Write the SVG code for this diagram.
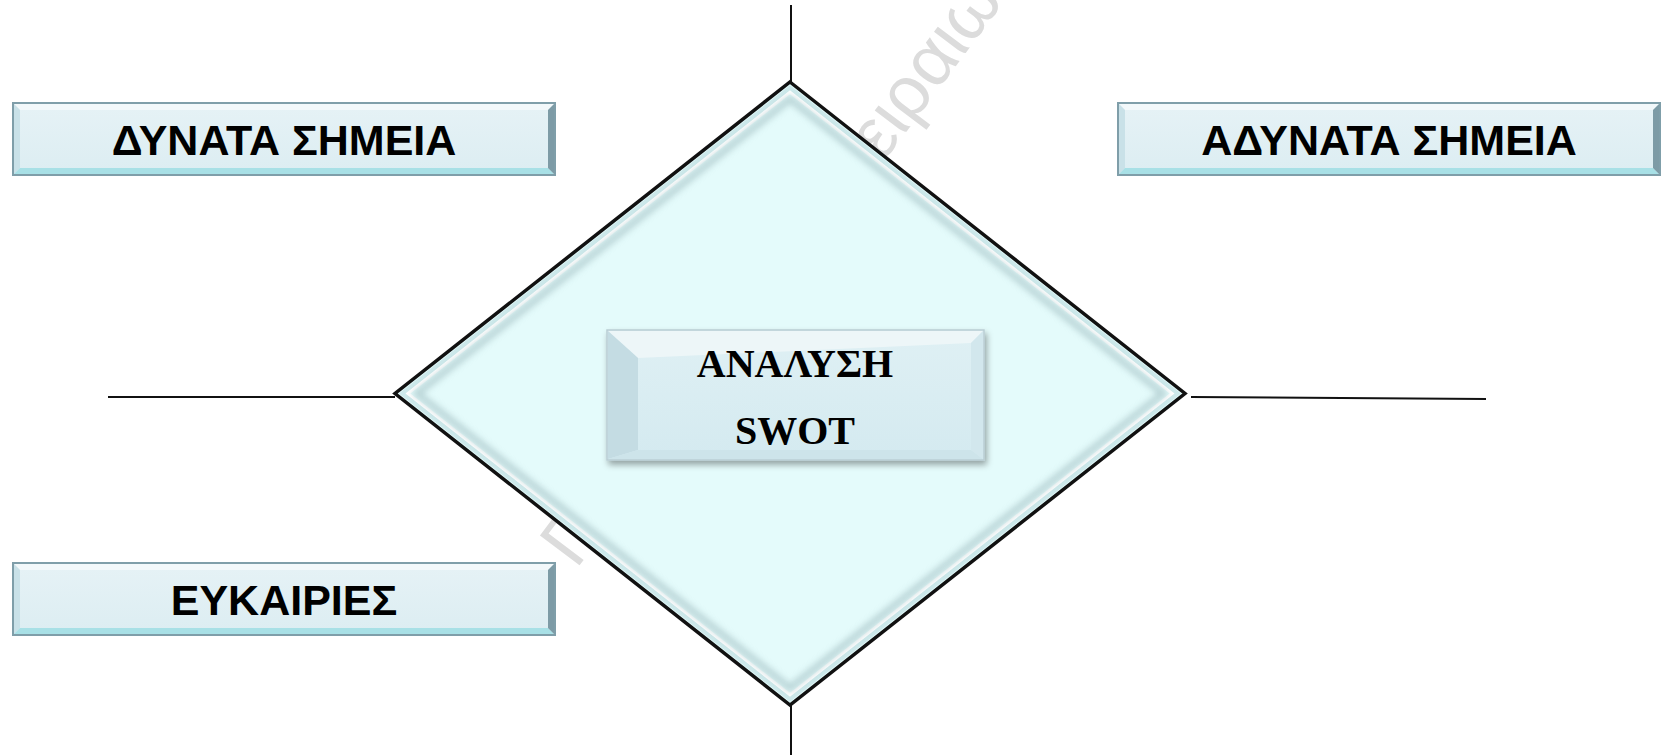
<svg xmlns="http://www.w3.org/2000/svg" xmlns:xlink="http://www.w3.org/1999/xlink" width="1668" height="755" viewBox="0 0 1668 755">
  <style>
    .conn { stroke: #111; stroke-width: 2; fill: none; }
    .lbl { font-family: "Liberation Sans", Arial, sans-serif; font-weight: bold; font-size: 43px; fill: #000; text-anchor: middle; }
    .ctr { font-family: "Liberation Serif", "Times New Roman", serif; font-weight: bold; font-size: 40px; fill: #000; text-anchor: middle; }
    .wm { font-family: "Liberation Sans", Arial, sans-serif; font-size: 72px; fill: #dcdcdc; }
  </style>
  <defs>
    <linearGradient id="boxFill" x1="0" y1="0" x2="0" y2="1">
      <stop offset="0" stop-color="#e6f2f6"/>
      <stop offset="1" stop-color="#dcedf2"/>
    </linearGradient>
    <linearGradient id="ctrFill" x1="0" y1="0" x2="0" y2="1">
      <stop offset="0" stop-color="#dff0f4"/>
      <stop offset="1" stop-color="#d4eaf0"/>
    </linearGradient>
    <filter id="shadow" x="-10%" y="-10%" width="125%" height="140%">
      <feDropShadow dx="2" dy="4" stdDeviation="3" flood-color="#000" flood-opacity="0.35"/>
    </filter>
    <filter id="blur3" x="-5%" y="-5%" width="110%" height="110%">
      <feGaussianBlur stdDeviation="3"/>
    </filter>
    <clipPath id="diaClip">
      <polygon points="790,82 1185,393.5 790,705 395,393.5"/>
    </clipPath>
    <g id="boxShape">
      <rect x="0" y="0" width="542" height="72" fill="url(#boxFill)" stroke="#7f9ea9" stroke-width="2"/>
      <polygon points="1,1 541,1 535,7 7,7" fill="#f2f8fa"/>
      <polygon points="1,1 7,7 7,65 1,71" fill="#c9e1e8"/>
      <polygon points="1,71 7,65 535,65 541,71" fill="#a8e0e6"/>
      <polygon points="541,1 541,71 535,65 535,7" fill="#7d9ba6"/>
    </g>
  </defs>

  <rect x="0" y="0" width="1668" height="755" fill="#ffffff"/>

  <text class="wm" transform="translate(576,570) rotate(-53)">Πανεπιστήμιο Πειραιώς</text>

  <g id="connectors">
    <line class="conn" x1="791" y1="5" x2="791" y2="82"/>
    <line class="conn" x1="791" y1="705" x2="791" y2="755"/>
    <line class="conn" x1="108" y1="397" x2="395" y2="397"/>
    <line class="conn" x1="1191" y1="397" x2="1486" y2="399"/>
  </g>

  <g id="swot-diamond">
    <polygon points="790,82 1185,393.5 790,705 395,393.5" fill="#e4fbfb" stroke="#111" stroke-width="3.5"/>
    <g clip-path="url(#diaClip)">
      <polygon points="790,88.4 1176.9,393.5 790,698.6 403.1,393.5" fill="none" stroke="#cde9eb" stroke-width="5"/>
      <polygon points="790,92.2 1172.1,393.5 790,694.8 407.9,393.5" fill="none" stroke="#ffffff" stroke-width="3"/>
      <polygon points="790,99 1163,393.5 790,688 417,393.5" fill="none" stroke="#9fbcc0" stroke-width="7" opacity="0.6" filter="url(#blur3)"/>
    </g>
  </g>

  <g id="node-strengths">
    <use xlink:href="#boxShape" x="13" y="103"/>
    <text class="lbl" x="284" y="155">ΔΥΝΑΤΑ ΣΗΜΕΙΑ</text>
  </g>

  <g id="node-weaknesses">
    <use xlink:href="#boxShape" x="1118" y="103"/>
    <text class="lbl" x="1389" y="155">ΑΔΥΝΑΤΑ ΣΗΜΕΙΑ</text>
  </g>

  <g id="node-opportunities">
    <use xlink:href="#boxShape" x="13" y="563"/>
    <text class="lbl" x="284" y="615">ΕΥΚΑΙΡΙΕΣ</text>
  </g>

  <g id="node-swot">
    <g filter="url(#shadow)">
      <rect x="607" y="330" width="377" height="130" fill="url(#ctrFill)" stroke="#b9cdd3" stroke-width="1.5"/>
    </g>
    <polygon points="608,331 983,331 971,343 638,358" fill="#edf6f8"/>
    <polygon points="608,331 638,358 638,450 608,459" fill="#c4dce3"/>
    <polygon points="608,459 638,450 971,450 983,459" fill="#cde4ea"/>
    <polygon points="983,331 983,459 971,450 971,343" fill="#d2e7ed"/>
    <text class="ctr" x="795" y="377">ΑΝΑΛΥΣΗ</text>
    <text class="ctr" x="795" y="444">SWOT</text>
  </g>
</svg>
